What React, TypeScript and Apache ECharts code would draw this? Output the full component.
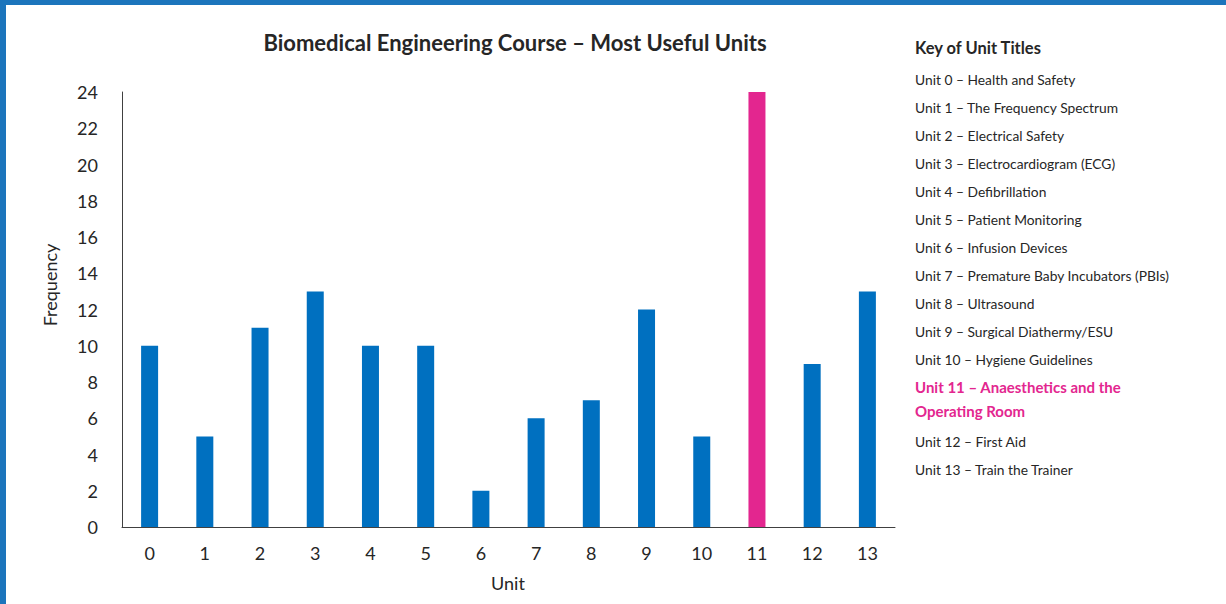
import React, { useEffect, useRef } from "react";
import * as echarts from "echarts";

const units = ["0", "1", "2", "3", "4", "5", "6", "7", "8", "9", "10", "11", "12", "13"];
const frequency = [10, 5, 11, 13, 10, 10, 2, 6, 7, 12, 5, 24, 9, 13];
const highlightUnit = 11;
const unitTitles = [
  "Unit 0 – Health and Safety",
  "Unit 1 – The Frequency Spectrum",
  "Unit 2 – Electrical Safety",
  "Unit 3 – Electrocardiogram (ECG)",
  "Unit 4 – Defibrillation",
  "Unit 5 – Patient Monitoring",
  "Unit 6 – Infusion Devices",
  "Unit 7 – Premature Baby Incubators (PBIs)",
  "Unit 8 – Ultrasound",
  "Unit 9 – Surgical Diathermy/ESU",
  "Unit 10 – Hygiene Guidelines",
  "Unit 11 – Anaesthetics and the\nOperating Room",
  "Unit 12 – First Aid",
  "Unit 13 – Train the Trainer",
];

const BLUE = "#0070C0";
const PINK = "#E3268F";
const FONT = "Lato, 'Open Sans', sans-serif";

export default function App() {
  const ref = useRef<HTMLDivElement>(null);
  useEffect(() => {
    if (!ref.current) return;
    const chart = echarts.init(ref.current, undefined, { renderer: "svg" });

    const keyItems: any[] = [];
    let y = 79;
    unitTitles.forEach((t, i) => {
      const hi = i === highlightUnit;
      keyItems.push({
        type: "text",
        left: 915,
        top: y - 12,
        style: {
          text: t,
          fill: hi ? PINK : "#262626",
          font: `${hi ? "bold 15px" : "13.8px"} ${FONT}`,
          lineHeight: 24,
        },
      });
      y += hi ? 24 + 30 : 28;
    });

    chart.setOption({
      animation: false,
      textStyle: { fontFamily: FONT },
      title: {
        text: "Biomedical Engineering Course – Most Useful Units",
        left: 510,
        textAlign: "center",
        top: 26,
        textStyle: { fontSize: 22, fontWeight: "bold", color: "#262626", fontFamily: FONT },
      },
      grid: { left: 122, right: 331, top: 92, bottom: 77 },
      xAxis: {
        type: "category",
        data: units,
        axisLine: { lineStyle: { color: "#404040", width: 1 } },
        axisTick: { show: false },
        axisLabel: { fontSize: 18, color: "#262626", margin: 17, fontFamily: FONT },
      },
      yAxis: {
        type: "value",
        min: 0,
        max: 24,
        interval: 2,
        splitLine: { show: false },
        axisLine: { show: true, lineStyle: { color: "#404040", width: 1 } },
        axisTick: { show: false },
        axisLabel: { fontSize: 18, color: "#262626", margin: 24, fontFamily: FONT },
      },
      series: [
        {
          type: "bar",
          barWidth: 17,
          data: frequency.map((v, i) => ({
            value: v,
            itemStyle: { color: i === highlightUnit ? PINK : BLUE },
          })),
        },
      ],
      graphic: [
        { type: "rect", shape: { x: 0, y: 0, width: 1226, height: 5 }, style: { fill: "#1C75BC" } },
        { type: "rect", shape: { x: 0, y: 0, width: 6, height: 604 }, style: { fill: "#1C75BC" } },
        {
          type: "text",
          x: 50,
          y: 285,
          rotation: Math.PI / 2,
          style: {
            text: "Frequency",
            fill: "#262626",
            font: `18px ${FONT}`,
            textAlign: "center",
            textVerticalAlign: "middle",
          },
        },
        {
          type: "text",
          x: 508,
          y: 583,
          style: {
            text: "Unit",
            fill: "#262626",
            font: `18px ${FONT}`,
            textAlign: "center",
            textVerticalAlign: "middle",
          },
        },
        {
          type: "text",
          left: 915,
          top: 39,
          style: { text: "Key of Unit Titles", fill: "#262626", font: `bold 16.5px ${FONT}` },
        },
        ...keyItems,
      ],
    });
    return () => chart.dispose();
  }, []);
  return (
    <div
      ref={ref}
      style={{ position: "fixed", left: 0, top: 0, width: 1226, height: 604, background: "#fff" }}
    />
  );
}
